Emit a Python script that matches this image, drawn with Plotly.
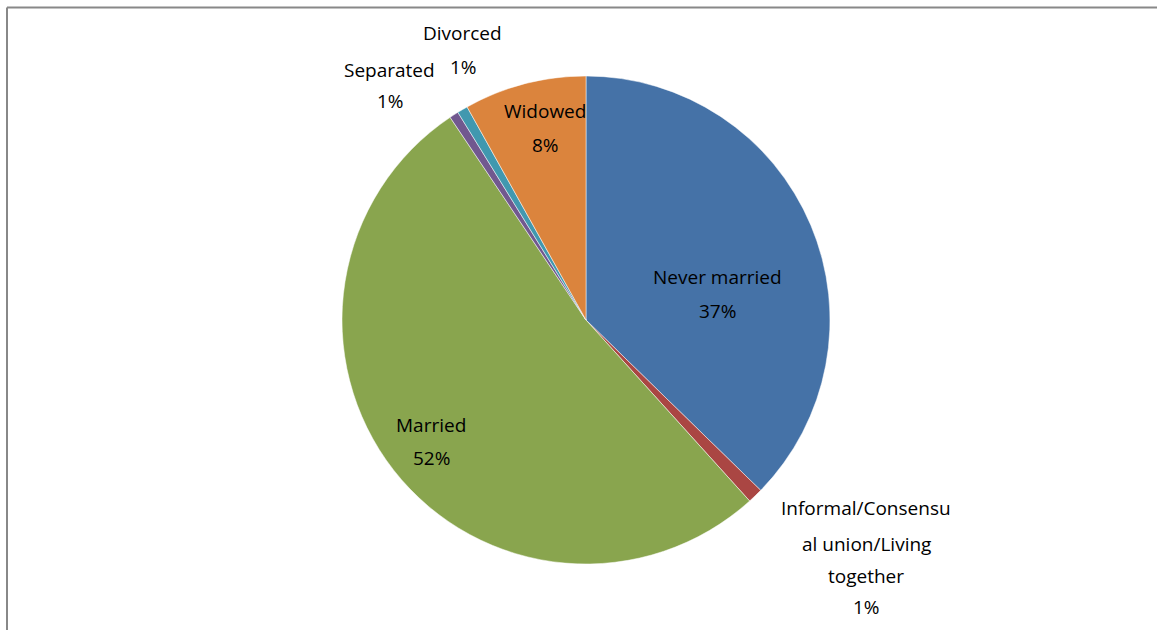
import plotly.graph_objects as go

categories = ["Never married", "Informal/Consensual union/Living together", "Married",
              "Separated", "Divorced", "Widowed"]
values = [37.3, 1.0, 52.3, 0.6, 0.7, 8.1]
colors = ["#4572A7", "#AA4643", "#89A54E", "#71588F", "#4198AF", "#DB843D"]
# label lines as shown in the chart (percent appended from values)
label_lines = [
    ["Never married"],
    ["Informal/Consensu", "al union/Living", "together"],
    ["Married"],
    ["Separated"],
    ["Divorced"],
    ["Widowed"],
]

W, H = 1157, 630
cx, cy, r = 586, 320, 244

fig = go.Figure(go.Pie(
    labels=categories, values=values, sort=False, direction="clockwise", rotation=0,
    marker=dict(colors=colors, line=dict(color="white", width=0.5)),
    textinfo="none", hoverinfo="label+percent", showlegend=False,
    domain=dict(x=[(cx - r) / W, (cx + r) / W], y=[1 - (cy + r) / H, 1 - (cy - r) / H]),
))

total = sum(values)
pcts = [f"{round(v / total * 100):.0f}%" for v in values]

# label placement (pixel centers of each line)
placements = [
    [(717, 277), (717, 311)],
    [(866, 508), (866, 544), (866, 576), (866, 607)],
    [(431, 425), (431, 458)],
    [(389, 70), (390, 101)],
    [(462, 33), (463, 67)],
    [(545, 111), (545, 145)],
]

annotations = []
for i, lines in enumerate(label_lines):
    texts = list(lines) + [pcts[i]]
    for t, (px, py) in zip(texts, placements[i]):
        annotations.append(dict(
            x=px / W, y=1 - py / H, xref="paper", yref="paper", text=t, showarrow=False,
            xanchor="center", yanchor="middle",
            font=dict(family="Open Sans", size=19, color="#000000"),
        ))

shapes = [
    dict(type="line", xref="paper", yref="paper", x0=7 / W, x1=1.0, y0=1 - 7.5 / H, y1=1 - 7.5 / H,
         line=dict(color="#888888", width=2)),
    dict(type="line", xref="paper", yref="paper", x0=7 / W, x1=7 / W, y0=0, y1=1 - 7.5 / H,
         line=dict(color="#888888", width=2)),
]

fig.update_layout(
    width=W, height=H, margin=dict(l=0, r=0, t=0, b=0),
    paper_bgcolor="white", plot_bgcolor="white",
    annotations=annotations, shapes=shapes,
)

fig.write_html("out.html")
